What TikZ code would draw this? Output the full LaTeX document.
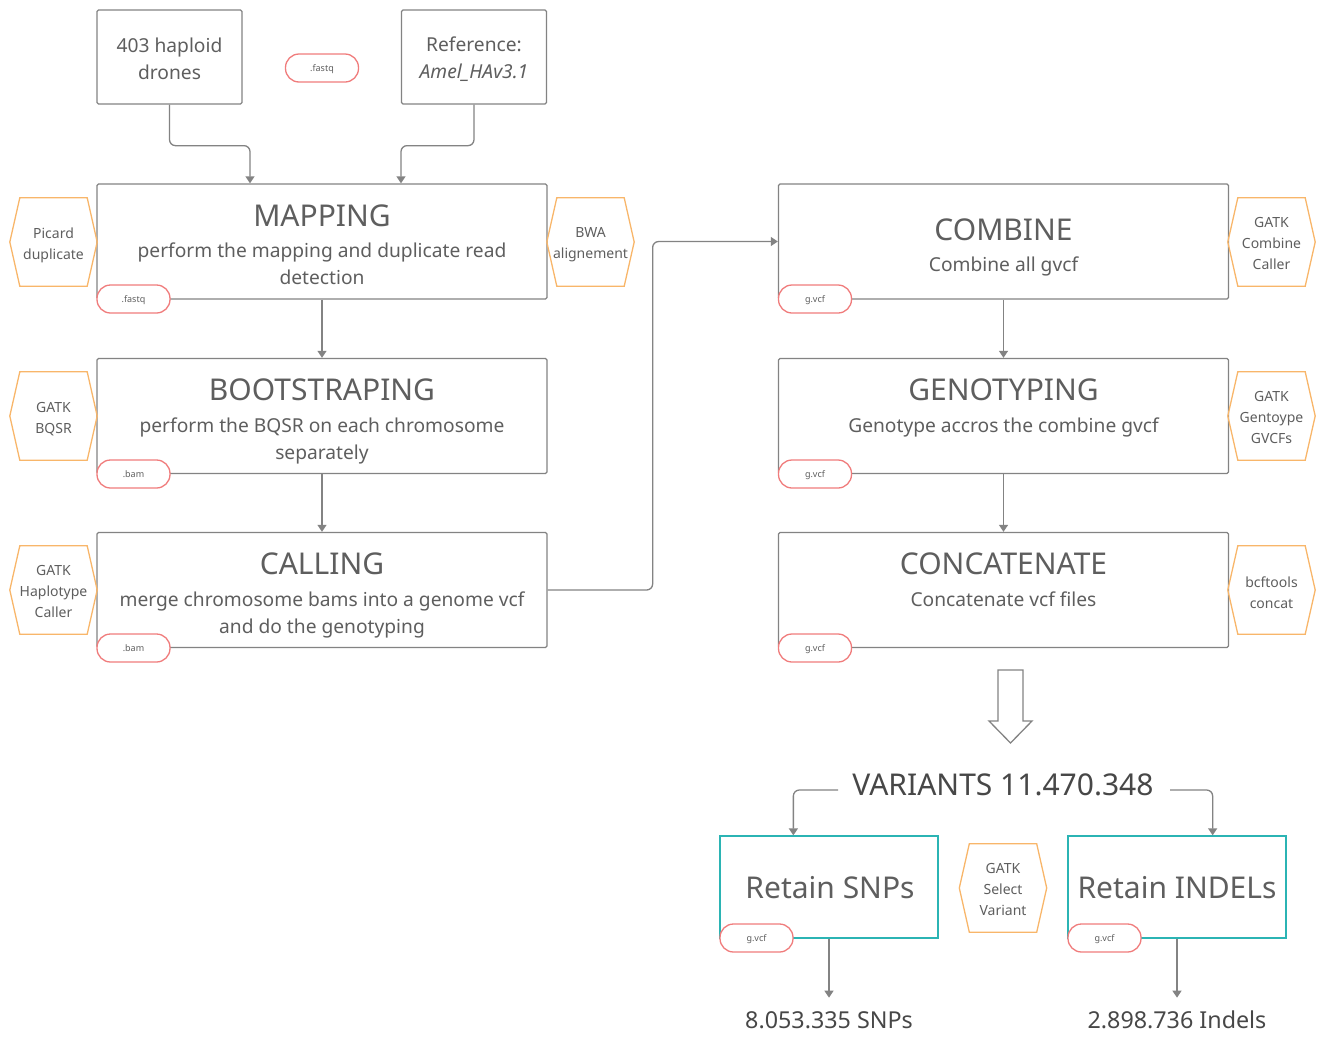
\documentclass[tikz,border=0pt]{standalone}
\usepackage{fontspec}
\setmainfont{Noto Sans}
\usetikzlibrary{arrows.meta,calc}
\definecolor{boxgray}{HTML}{838383}
\definecolor{txtc}{HTML}{5E5E5E}
\definecolor{darktxt}{HTML}{474747}
\definecolor{hexor}{HTML}{F8B66A}
\definecolor{pillred}{HTML}{F07C7C}
\definecolor{tealc}{HTML}{2BB4B4}
\begin{document}
\begin{tikzpicture}[x=1pt,y=-1pt,
  box/.style={draw=boxgray, line width=1.3pt, minimum width=450pt, minimum height=115pt, inner sep=0pt, rounded corners=1.5pt},
  smallbox/.style={draw=boxgray, line width=1.3pt, minimum width=145pt, minimum height=94pt, inner sep=0pt, rounded corners=1.5pt},
  resbox/.style={draw=tealc, line width=1.3pt, minimum width=218pt, minimum height=102pt, inner sep=0pt},
  title/.style={text=txtc, font=\fontsize{30}{36}\selectfont, inner sep=0pt},
  body/.style={text=txtc, font=\fontsize{19.2}{27}\selectfont, align=center, inner sep=0pt},
  pill/.style={draw=pillred, fill=white, line width=1.3pt, rounded corners=13.5pt, minimum width=73pt, minimum height=28pt, inner sep=0pt, text height=6.5pt, text depth=0pt, text=txtc, font=\fontsize{9}{10}\selectfont},
  hexbox/.style={minimum width=87pt, minimum height=88pt, inner sep=0pt},
  hextext/.style={inner sep=0pt, align=center, text=txtc, font=\fontsize{14}{21}\selectfont},
  hexline/.style={draw=hexor, line width=1.3pt, line join=miter},
  arr/.style={draw=boxgray, line width=1.3pt, -{Triangle[width=9pt,length=7pt]}, rounded corners=6pt},
  result/.style={text=darktxt, font=\fontsize{23.3}{28}\selectfont, inner sep=0pt}
]
\useasboundingbox (0,0) rectangle (1323,1050);

\newcommand{\hexnode}[5]{%
  \node[hexbox] (#1) at (#2,#3) {};
  \draw[hexline] ([xshift=10pt]#1.north west) -- ([xshift=-10pt]#1.north east) -- (#1.east) -- ([xshift=-10pt]#1.south east) -- ([xshift=10pt]#1.south west) -- (#1.west) -- cycle;
  \node[hextext] (#1t) at ($(#2,#3)+(0,#5)$) {#4};
}

% top inputs
\node[smallbox] (drones) at (169.5,57) {};
\node[body] (dronesT) at (169.5,59) {403 haploid\\drones};
\node[smallbox] (ref) at (474,57) {};
\node[body] (refT) at (474,59) {Reference:\\\textit{Amel\_HAv3.1}};
\node[pill] (toppill) at (322,68) {.fastq};

% left column
\node[box] (mapping) at (322,241.5) {};
\node[title] (mapT) at (322,216) {MAPPING};
\node[body] (mapB) at (322,263.5) {perform the mapping and duplicate read\\detection};

\node[box] (boot) at (322,416) {};
\node[title] (bootT) at (322,390) {BOOTSTRAPING};
\node[body] (bootB) at (322,440.5) {perform the BQSR on each chromosome\\separately};

\node[box] (calling) at (322,590) {};
\node[title] (callT) at (322,564) {CALLING};
\node[body] (callB) at (322,614.5) {merge chromosome bams into a genome vcf\\and do the genotyping};

% right column
\node[box] (combine) at (1003.5,241.5) {};
\node[title] (combT) at (1003.5,230) {COMBINE};
\node[body] (combB) at (1003.5,266) {Combine all gvcf};

\node[box] (geno) at (1003.5,416) {};
\node[title] (genoT) at (1003.5,390) {GENOTYPING};
\node[body] (genoB) at (1003.5,427) {Genotype accros the combine gvcf};

\node[box] (concat) at (1003.5,590) {};
\node[title] (concT) at (1003.5,564) {CONCATENATE};
\node[body] (concB) at (1003.5,599) {Concatenate vcf files};

% pills
\node[pill] (p1) at (133.5,299) {.fastq};
\node[pill] (p2) at (133.5,474) {.bam};
\node[pill] (p3) at (133.5,648) {.bam};
\node[pill] (p4) at (815,299) {g.vcf};
\node[pill] (p5) at (815,474) {g.vcf};
\node[pill] (p6) at (815,648) {g.vcf};

% hexagons
\hexnode{picard}{53.5}{242}{Picard\\duplicate}{3}
\hexnode{bwa}{590.5}{242}{BWA\\alignement}{3}
\hexnode{bqsr}{53.5}{416}{GATK\\BQSR}{3}
\hexnode{hapl}{53.5}{590}{GATK\\Haplotype\\Caller}{1}
\hexnode{combc}{1271.5}{242}{GATK\\Combine\\Caller}{1}
\hexnode{genoc}{1271.5}{416}{GATK\\Gentoype\\GVCFs}{1}
\hexnode{bcf}{1271.5}{590}{bcftools\\concat}{3}
\hexnode{selv}{1003}{888}{GATK\\Select\\Variant}{1}

% connectors
\draw[arr] (drones.south) -- ++(0,41) -| ([xshift=-72pt]mapping.north);
\draw[arr] (ref.south) -- ++(0,41) -| ([xshift=79pt]mapping.north);
\draw[arr] (mapping.south) -- (boot.north);
\draw[arr] (boot.south) -- (calling.north);
\draw[arr] (calling.east) -- ++(105,0) |- (combine.west);
\draw[arr] (combine.south) -- (geno.north);
\draw[arr] (geno.south) -- (concat.north);

% big hollow arrow
\draw[draw=boxgray, line width=1.3pt, line join=miter] (998,670) -- (1023,670) -- (1023,721) -- (1032,721) -- (1010.5,743) -- (989,721) -- (998,721) -- cycle;

% variants
\node[text=darktxt, font=\fontsize{30}{36}\selectfont, inner sep=0pt] (var) at (1003,785) {VARIANTS 11.470.348};
\coordinate (vl) at (838,790);
\coordinate (vr) at (1170,790);

\node[resbox] (snps) at (829,887) {};
\node[title] (snpsT) at (830,888) {Retain SNPs};
\node[resbox] (indels) at (1177,887) {};
\node[title] (indT) at (1177,888) {Retain INDELs};
\node[pill] (p7) at (756.5,938) {g.vcf};
\node[pill] (p8) at (1104.5,938) {g.vcf};

\draw[arr] (vl) -| ([xshift=74pt]snps.north west);
\draw[arr] (vr) -| ([xshift=-74pt]indels.north east);

\node[result] (snpres) at (829,1020) {8.053.335 SNPs};
\node[result] (indres) at (1177,1020) {2.898.736 Indels};
\draw[arr] (snps.south) -- ++(0,59);
\draw[arr] (indels.south) -- ++(0,59);
\end{tikzpicture}
\end{document}
